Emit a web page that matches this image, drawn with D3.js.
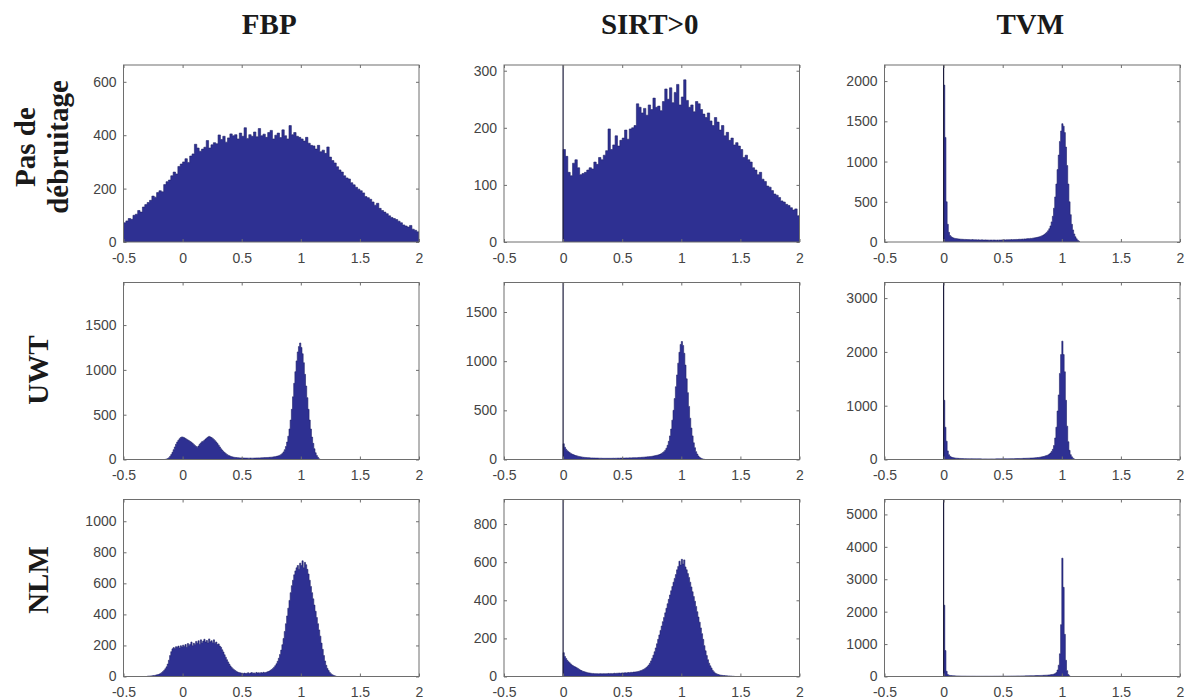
<!DOCTYPE html>
<html><head><meta charset="utf-8">
<script src="https://cdn.jsdelivr.net/npm/d3@7"></script>
<style>body{margin:0;background:#fff}</style>
</head><body><svg id="c" width="1192" height="700"></svg>
<script>
const columnTitles = ["FBP", "SIRT>0", "TVM"];
const rowTitles = [["Pas de", "débruitage"], ["UWT"], ["NLM"]];
const xDomain = [-0.5, 2];
const xTickValues = [-0.5, 0, 0.5, 1, 1.5, 2];
const xTickLabels = ["-0.5", "0", "0.5", "1", "1.5", "2"];
const yLimits = [663, 310, 2200, 1975, 1800, 3290, 1140, 929, 5460];
const yTickValues = [
  [0, 200, 400, 600], [0, 100, 200, 300], [0, 500, 1000, 1500, 2000],
  [0, 500, 1000, 1500], [0, 500, 1000, 1500], [0, 1000, 2000, 3000],
  [0, 200, 400, 600, 800, 1000], [0, 200, 400, 600, 800], [0, 1000, 2000, 3000, 4000, 5000]
];
const binStarts = [-0.5, 0, 0, -0.15, 0, 0, -0.3, 0, 0];
const binWidths = [0.02, 0.02, 0.01, 0.01, 0.01, 0.01, 0.01, 0.01, 0.01];
const spikeAtZero = [null, 320, 2300, null, 1900, 3400, null, 950, 5600];

const countsFBPNone = [
  72, 79, 88, 85, 100, 104, 118, 112, 131, 140, 148, 156, 172, 168, 185,
  192, 188, 215, 226, 232, 248, 262, 255, 283, 292, 300, 312, 298, 322, 330,
  366, 352, 340, 348, 355, 380, 352, 364, 372, 368, 401, 384, 396, 374, 390,
  405, 398, 402, 386, 408, 396, 428, 388, 402, 396, 412, 394, 425, 398, 404,
  392, 410, 418, 386, 400, 408, 391, 420, 398, 386, 436, 402, 410, 396, 392,
  386, 378, 392, 370, 362, 360, 348, 362, 338, 344, 332, 356, 318, 305, 296,
  282, 270, 262, 248, 240, 236, 222, 214, 205, 198, 192, 184, 170, 166, 160,
  150, 138, 145, 126, 118, 112, 106, 98, 92, 88, 84, 78, 72, 64, 60,
  56, 62, 48, 44, 38
];
const countsSIRTNone = [
  162, 150, 122, 116, 138, 144, 130, 118, 120, 122, 126, 130, 128, 140, 136,
  148, 144, 152, 160, 198, 162, 170, 186, 168, 178, 182, 196, 180, 198, 200,
  204, 242, 236, 226, 234, 222, 240, 232, 252, 236, 238, 230, 246, 268, 250,
  270, 244, 262, 276, 240, 254, 284, 248, 236, 240, 228, 246, 242, 232, 224,
  218, 226, 212, 204, 218, 210, 196, 204, 186, 192, 178, 182, 170, 174, 168,
  162, 148, 152, 144, 140, 130, 126, 118, 122, 110, 106, 98, 96, 90, 84,
  82, 78, 72, 70, 66, 64, 60, 56, 58, 46
];
const countsTVMNone = [
  1950, 1300, 500, 220, 120, 80, 65, 55, 50, 45,
  42, 40, 38, 36, 35, 34, 33, 32, 32, 31,
  30, 30, 29, 28, 30, 28, 27, 28, 26, 27,
  26, 25, 27, 25, 24, 26, 24, 25, 23, 24,
  24, 23, 25, 24, 22, 24, 23, 25, 24, 26,
  25, 27, 26, 28, 27, 29, 28, 30, 29, 31,
  30, 32, 31, 33, 34, 33, 36, 35, 38, 37,
  40, 42, 41, 45, 44, 48, 50, 52, 55, 58,
  62, 66, 72, 78, 86, 95, 108, 122, 140, 165,
  200, 250, 320, 420, 560, 720, 900, 1080, 1250, 1380,
  1470, 1440, 1360, 1180, 950, 720, 500, 340, 220, 150,
  100, 65, 40, 22, 10
];
const countsFBPUWT = [
  2, 5, 10, 20, 35, 55, 80, 110, 140, 170,
  195, 215, 232, 245, 252, 248, 242, 235, 225, 218,
  210, 200, 192, 180, 168, 155, 145, 138, 150, 170,
  185, 198, 205, 215, 228, 240, 250, 258, 252, 245,
  235, 222, 210, 195, 178, 160, 140, 120, 105, 90,
  78, 66, 56, 48, 42, 36, 32, 28, 25, 23,
  21, 20, 19, 18, 18, 17, 17, 16, 16, 16,
  15, 15, 16, 15, 15, 16, 16, 17, 17, 18,
  18, 19, 19, 20, 21, 21, 22, 23, 24, 25,
  26, 28, 30, 32, 35, 38, 42, 48, 56, 68,
  85, 110, 145, 195, 260, 340, 440, 560, 700, 850,
  980, 1100, 1200, 1260, 1300, 1250, 1180, 1080, 950, 820,
  690, 560, 440, 340, 250, 180, 120, 75, 45, 25,
  8
];
const countsSIRTUWT = [
  160, 125, 105, 90, 80, 70, 62, 55, 50, 45,
  40, 37, 34, 31, 28, 26, 24, 22, 21, 20,
  19, 18, 17, 16, 16, 15, 15, 14, 14, 14,
  13, 13, 13, 12, 12, 12, 12, 12, 12, 12,
  12, 12, 13, 12, 13, 13, 14, 13, 14, 14,
  15, 14, 15, 16, 15, 16, 17, 16, 17, 18,
  18, 19, 19, 20, 21, 21, 22, 23, 24, 25,
  26, 27, 28, 30, 31, 33, 35, 37, 40, 43,
  46, 50, 55, 62, 70, 80, 95, 115, 145, 185,
  240, 310, 400, 500, 620, 740, 860, 980, 1090, 1170,
  1200, 1160, 1080, 960, 820, 680, 540, 420, 320, 240,
  170, 120, 80, 55, 35, 22, 14, 8, 4, 2
];
const countsTVMUWT = [
  1100, 600, 340, 160, 90, 60, 45, 38, 32, 28,
  25, 23, 21, 20, 19, 18, 17, 16, 16, 15,
  15, 14, 14, 14, 13, 13, 13, 12, 12, 12,
  12, 12, 11, 11, 11, 11, 11, 11, 11, 11,
  11, 11, 11, 11, 12, 12, 12, 12, 12, 13,
  13, 13, 14, 14, 14, 15, 15, 15, 16, 16,
  17, 17, 18, 18, 19, 19, 20, 21, 21, 22,
  23, 24, 25, 26, 27, 28, 30, 32, 34, 36,
  38, 42, 46, 50, 55, 60, 68, 75, 85, 100,
  120, 150, 190, 260, 400, 600, 900, 1200, 1600, 1950,
  2200, 1950, 1630, 1100, 620, 330, 170, 90, 50, 25,
  10
];
const countsFBPNLM = [
  2, 3, 3, 4, 5, 6, 7, 9, 11, 13,
  16, 20, 25, 32, 40, 50, 62, 80, 105, 135,
  160, 178, 186, 180, 192, 188, 196, 184, 198, 190,
  202, 194, 206, 188, 212, 200, 208, 222, 198, 214,
  206, 226, 214, 230, 208, 236, 218, 228, 240, 222,
  232, 216, 242, 224, 230, 218, 236, 214, 222, 206,
  210, 196, 188, 172, 158, 140, 124, 108, 94, 80,
  68, 58, 50, 44, 38, 33, 29, 26, 24, 22,
  21, 20, 22, 19, 21, 24, 20, 22, 25, 21,
  23, 20, 26, 22, 24, 21, 25, 23, 27, 24,
  26, 29, 32, 35, 40, 45, 52, 60, 70, 82,
  98, 118, 142, 170, 205, 245, 290, 340, 390, 440,
  490, 540, 585, 620, 655, 680, 700, 715, 690, 730,
  715, 745, 700, 735, 720, 690, 660, 620, 580, 540,
  500, 460, 420, 380, 340, 300, 260, 215, 175, 135,
  100, 72, 52, 38, 26, 18, 12, 8, 5, 3
];
const countsSIRTNLM = [
  125, 105, 95, 85, 78, 72, 66, 60, 56, 52,
  50, 46, 42, 38, 34, 31, 28, 26, 24, 22,
  20, 19, 18, 17, 16, 16, 15, 15, 15, 14,
  14, 15, 14, 14, 15, 14, 15, 15, 16, 15,
  16, 15, 16, 17, 16, 17, 17, 18, 17, 18,
  19, 18, 20, 19, 20, 21, 20, 22, 21, 23,
  23, 24, 25, 26, 28, 30, 32, 35, 38, 42,
  47, 53, 60, 70, 82, 96, 112, 130, 150, 172,
  195, 218, 242, 265, 288, 310, 334, 358, 382, 405,
  428, 450, 472, 495, 515, 535, 560, 578, 605, 585,
  615, 590, 612, 575, 560, 540, 520, 495, 470, 445,
  420, 395, 368, 340, 312, 285, 255, 225, 195, 162,
  135, 110, 88, 70, 56, 45, 33, 25, 19, 15,
  12, 10, 8, 7, 6, 5, 5, 4, 4, 3,
  3, 2, 2, 1, 1
];
const countsTVMNLM = [
  2200, 800, 160, 60, 40, 32, 28, 25, 22, 20,
  18, 16, 15, 14, 13, 12, 12, 11, 11, 10,
  10, 10, 9, 9, 9, 9, 9, 8, 8, 8,
  8, 8, 8, 8, 8, 8, 8, 8, 8, 8,
  8, 8, 9, 9, 9, 9, 9, 10, 10, 10,
  10, 11, 11, 11, 12, 12, 12, 13, 13, 14,
  14, 15, 15, 16, 16, 17, 18, 18, 19, 20,
  21, 22, 23, 24, 25, 26, 27, 28, 29, 30,
  31, 32, 33, 34, 36, 38, 40, 42, 45, 48,
  52, 58, 65, 75, 90, 120, 200, 350, 700, 1600,
  3650, 2750, 1300, 500, 180, 60, 20
];
const panelCounts = [
  countsFBPNone, countsSIRTNone, countsTVMNone,
  countsFBPUWT, countsSIRTUWT, countsTVMUWT,
  countsFBPNLM, countsSIRTNLM, countsTVMNLM
];

// layout
const colX = [123.5, 504, 884.5];
const rowY = [65, 282.5, 499.5];
const pw = 295.5, ph = 177;
const fillColor = "#2e3092", edgeColor = "#20216a";
const axisColor = "#6e6e6e", labelColor = "#444";

const svg = d3.select("#c");
const titleFont = "'Liberation Serif','Times New Roman',serif";

columnTitles.forEach((t, c) => {
  svg.append("text").attr("x", colX[c] + pw / 2 - 2).attr("y", 34)
    .attr("text-anchor", "middle").attr("font-family", titleFont)
    .attr("font-weight", "bold").attr("font-size", 29).attr("fill", "#1a1a1a").text(t);
});
const rowCenters = [147, 370, 580];
rowTitles.forEach((lines, r) => {
  const g = svg.append("g").attr("transform", `translate(0,${rowCenters[r]}) rotate(-90)`);
  const baseX = lines.length === 2 ? [35, 68] : [48];
  lines.forEach((l, i) => {
    g.append("text").attr("x", 0).attr("y", baseX[i]).attr("text-anchor", "middle")
      .attr("font-family", titleFont).attr("font-weight", "bold").attr("font-size", 29)
      .attr("fill", "#1a1a1a").text(l);
  });
});

for (let k = 0; k < 9; k++) {
  const r = Math.floor(k / 3), c = k % 3;
  const g = svg.append("g").attr("transform", `translate(${colX[c]},${rowY[r]})`);
  const x = d3.scaleLinear().domain(xDomain).range([0, pw]);
  const y = d3.scaleLinear().domain([0, yLimits[k]]).range([ph, 0]);
  const clipId = "clip" + k;
  g.append("clipPath").attr("id", clipId).append("rect").attr("width", pw).attr("height", ph);

  const counts = panelCounts[k];
  const pts = counts.map((v, i) => ({ x: binStarts[k] + i * binWidths[k], v }));
  pts.push({ x: binStarts[k] + counts.length * binWidths[k], v: counts[counts.length - 1] });
  const area = d3.area().x(d => x(d.x)).y0(ph).y1(d => y(d.v)).curve(d3.curveStepAfter);
  g.append("path").attr("clip-path", `url(#${clipId})`).attr("d", area(pts))
    .attr("fill", fillColor).attr("stroke", edgeColor).attr("stroke-width", 0.6);

  if (spikeAtZero[k] !== null) {
    g.append("line").attr("clip-path", `url(#${clipId})`)
      .attr("x1", x(0)).attr("x2", x(0)).attr("y1", ph).attr("y2", y(spikeAtZero[k]))
      .attr("stroke", "#1c1c3c").attr("stroke-width", 1.2);
  }

  const fontAx = "'Liberation Sans',Arial,sans-serif";
  const bottom = g.append("g").attr("transform", `translate(0,${ph})`)
    .call(d3.axisBottom(x).tickValues(xTickValues).tickFormat((d, i) => xTickLabels[i])
      .tickSizeInner(-3).tickSizeOuter(0).tickPadding(11));
  const top = g.append("g")
    .call(d3.axisTop(x).tickValues(xTickValues).tickFormat("").tickSizeInner(-3).tickSizeOuter(0));
  const left = g.append("g")
    .call(d3.axisLeft(y).tickValues(yTickValues[k]).tickFormat(d3.format("d"))
      .tickSizeInner(-3).tickSizeOuter(0).tickPadding(7));
  const right = g.append("g").attr("transform", `translate(${pw},0)`)
    .call(d3.axisRight(y).tickValues(yTickValues[k]).tickFormat("").tickSizeInner(-3).tickSizeOuter(0));
  [bottom, top, left, right].forEach(a => {
    a.select(".domain").remove();
    a.selectAll(".tick line").attr("stroke", axisColor);
    a.selectAll("text").attr("font-family", fontAx).attr("font-size", 14).attr("fill", labelColor);
  });
  g.append("rect").attr("width", pw).attr("height", ph).attr("fill", "none")
    .attr("stroke", axisColor).attr("stroke-width", 1);
}
</script></body></html>
